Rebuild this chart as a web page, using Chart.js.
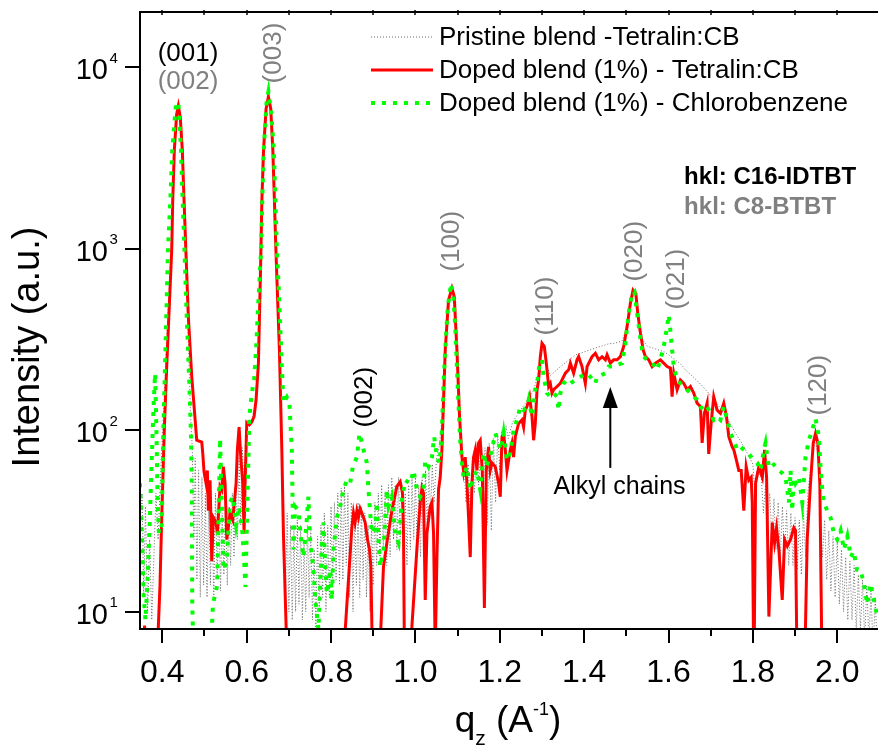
<!DOCTYPE html>
<html><head><meta charset="utf-8">
<script src="https://cdn.jsdelivr.net/npm/chart.js@4.4.1/dist/chart.umd.min.js"></script>
<style>html,body{margin:0;padding:0;background:#fff;overflow:hidden}canvas{display:block}</style>
</head><body>
<canvas id="c" width="878" height="747"></canvas>
<script>
// ---- series names ----
const seriesNames = ['Pristine blend -Tetralin:CB', 'Doped blend (1%) - Tetralin:CB', 'Doped blend (1%) - Chlorobenzene'];

// ---- series values: [q_z (1/A), intensity (a.u.)] ----
const pristine = [[0.347,30],[0.352,45],[0.356,12],[0.36,38],[0.365,10],[0.37,25],[0.375,9],[0.38,20],[0.385,45],[0.39,25],[0.395,50],[0.4,90],[0.405,160],[0.41,300],[0.42,900],[0.428,3000],[0.434,5200],[0.438,5800],[0.443,5000],[0.448,3000],[0.452,1600],[0.456,800],[0.462,300],[0.467,120],[0.471,80],[0.475,25],[0.478,70],[0.482,15],[0.486,60],[0.49,12],[0.494,55],[0.498,14],[0.502,45],[0.506,12],[0.51,40],[0.514,14],[0.518,35],[0.522,12],[0.526,45],[0.53,15],[0.534,40],[0.538,13],[0.542,35],[0.546,16],[0.55,40],[0.554,14],[0.558,38],[0.562,18],[0.566,45],[0.57,20],[0.574,55],[0.578,25],[0.582,70],[0.586,30],[0.59,80],[0.594,40],[0.598,90],[0.602,110],[0.61,110],[0.618,130],[0.625,200],[0.632,700],[0.64,3200],[0.646,5800],[0.6515,6600],[0.657,5600],[0.663,3000],[0.668,1200],[0.674,400],[0.68,150],[0.684,80],[0.688,30],[0.692,12],[0.696,35],[0.7,10],[0.704,30],[0.708,9],[0.712,28],[0.716,10],[0.72,32],[0.724,11],[0.728,30],[0.732,9],[0.736,25],[0.74,10],[0.744,30],[0.748,12],[0.752,28],[0.756,9],[0.76,22],[0.764,8],[0.768,26],[0.772,10],[0.776,30],[0.78,12],[0.784,35],[0.788,10],[0.792,30],[0.796,12],[0.8,38],[0.804,14],[0.808,40],[0.812,15],[0.816,45],[0.82,14],[0.824,48],[0.828,15],[0.832,50],[0.836,18],[0.84,45],[0.844,12],[0.848,40],[0.852,10],[0.856,35],[0.86,14],[0.864,40],[0.868,12],[0.872,38],[0.876,15],[0.88,35],[0.884,12],[0.888,30],[0.892,10],[0.896,32],[0.9,14],[0.904,40],[0.908,18],[0.912,45],[0.916,20],[0.92,50],[0.924,22],[0.928,45],[0.932,18],[0.936,50],[0.94,20],[0.944,55],[0.948,25],[0.952,50],[0.956,22],[0.96,55],[0.964,25],[0.968,50],[0.972,20],[0.976,45],[0.98,18],[0.984,50],[0.988,22],[0.992,55],[0.996,25],[1.0,55],[1.004,22],[1.008,50],[1.012,20],[1.016,55],[1.02,25],[1.024,60],[1.028,30],[1.032,60],[1.036,35],[1.04,65],[1.044,40],[1.05,70],[1.056,80],[1.062,110],[1.07,250],[1.078,480],[1.0866,560],[1.092,500],[1.098,260],[1.104,120],[1.11,75],[1.116,60],[1.12,40],[1.125,65],[1.13,35],[1.135,70],[1.14,45],[1.145,80],[1.15,50],[1.155,85],[1.16,40],[1.165,80],[1.17,30],[1.175,85],[1.18,28],[1.185,90],[1.19,40],[1.195,95],[1.2,60],[1.205,100],[1.21,80],[1.215,105],[1.22,90],[1.23,110],[1.24,120],[1.25,130],[1.26,140],[1.27,155],[1.28,165],[1.29,200],[1.3,280],[1.305,270],[1.31,230],[1.32,200],[1.33,210],[1.34,220],[1.35,230],[1.36,240],[1.37,250],[1.38,260],[1.39,265],[1.4,270],[1.41,275],[1.42,280],[1.43,285],[1.44,290],[1.45,295],[1.46,300],[1.47,300],[1.48,305],[1.49,310],[1.5,360],[1.51,480],[1.516,570],[1.522,540],[1.53,380],[1.54,310],[1.55,290],[1.56,285],[1.57,280],[1.58,275],[1.59,270],[1.6,260],[1.61,250],[1.62,240],[1.63,230],[1.64,215],[1.65,205],[1.66,195],[1.67,185],[1.68,175],[1.69,165],[1.7,155],[1.71,145],[1.72,135],[1.73,125],[1.74,115],[1.75,105],[1.76,95],[1.77,88],[1.78,80],[1.79,72],[1.8,65],[1.805,45],[1.81,60],[1.82,55],[1.825,35],[1.83,50],[1.835,30],[1.84,45],[1.845,25],[1.85,42],[1.855,22],[1.86,40],[1.865,20],[1.87,38],[1.875,20],[1.88,36],[1.885,18],[1.89,35],[1.895,18],[1.9,33],[1.905,17],[1.91,32],[1.915,16],[1.92,35],[1.925,20],[1.93,45],[1.94,70],[1.948,90],[1.955,70],[1.96,40],[1.965,20],[1.97,32],[1.975,15],[1.98,28],[1.985,13],[1.99,26],[1.995,12],[2.0,24],[2.005,11],[2.01,22],[2.015,10],[2.02,20],[2.025,9],[2.03,19],[2.035,9],[2.04,18],[2.045,8],[2.05,16],[2.055,8],[2.06,15],[2.065,7],[2.07,14],[2.075,7],[2.08,13],[2.085,6],[2.09,12],[2.095,6]];

const dopedTetralin = [[0.347,4],[0.352,4],[0.358,8.4],[0.362,4],[0.388,4],[0.3905,8.2],[0.3945,14],[0.3986,33],[0.4047,100],[0.4104,224],[0.4165,480],[0.4223,984],[0.4247,1850],[0.4285,3500],[0.434,5500],[0.438,6110],[0.4425,5300],[0.4474,3500],[0.4515,1850],[0.4555,1025],[0.4617,422],[0.4698,197],[0.4816,88],[0.4935,86],[0.4958,75],[0.4989,59],[0.5037,51],[0.5068,60],[0.5091,36],[0.5132,53],[0.5172,19],[0.521,33],[0.5274,31],[0.5305,27],[0.5369,49],[0.5409,47],[0.5447,63],[0.5488,51],[0.5528,25],[0.5606,35],[0.567,32],[0.5749,51],[0.5779,78],[0.582,104],[0.586,71],[0.5907,51],[0.5938,27],[0.5962,51],[0.6002,110],[0.6064,107],[0.6121,111],[0.6176,119],[0.6223,147],[0.6278,233],[0.633,800],[0.636,1850],[0.64,3500],[0.646,5900],[0.6515,6880],[0.657,5900],[0.662,3500],[0.6657,1850],[0.669,1025],[0.6776,277],[0.6833,78],[0.6871,27],[0.6935,8.3],[0.698,4],[0.826,4],[0.834,8.2],[0.8493,29],[0.8531,35],[0.857,31],[0.8612,36],[0.865,33],[0.869,37],[0.8731,35],[0.8809,31],[0.8864,25],[0.8911,22],[0.8944,17.7],[0.8968,8.3],[0.899,4],[0.915,4],[0.9181,8.2],[0.9243,17.7],[0.9324,24],[0.9442,36],[0.9561,49],[0.9639,52],[0.9694,45],[0.9718,27],[0.9734,8.3],[0.976,4],[0.988,4],[0.9917,8.3],[1.005,25],[1.0114,40],[1.0154,48],[1.0192,45],[1.0233,11.6],[1.0273,27],[1.0351,38],[1.0391,40],[1.043,27],[1.047,6],[1.051,20],[1.0548,47],[1.0588,55],[1.0628,78],[1.0707,277],[1.0785,521],[1.0866,605],[1.0921,544],[1.0984,277],[1.1046,119],[1.1103,71],[1.1141,60],[1.1181,71],[1.1222,51],[1.126,33],[1.13,20],[1.134,51],[1.1378,71],[1.1419,78],[1.1459,60],[1.1497,85],[1.1537,88],[1.1585,60],[1.1635,10.5],[1.168,60],[1.1734,81],[1.1774,60],[1.1815,66],[1.1893,63],[1.1972,51],[1.2012,43],[1.2052,92],[1.209,96],[1.2131,78],[1.2171,60],[1.2249,78],[1.2289,85],[1.2327,71],[1.2368,92],[1.2446,109],[1.2527,114],[1.2565,104],[1.2605,129],[1.2645,135],[1.2707,153],[1.2764,119],[1.2802,88],[1.2842,109],[1.2883,167],[1.2921,189],[1.2961,254],[1.3001,301],[1.3056,289],[1.3103,234],[1.3158,174],[1.3198,181],[1.3238,160],[1.3276,167],[1.3357,174],[1.3435,181],[1.3554,206],[1.3632,215],[1.3673,234],[1.3751,206],[1.3831,244],[1.3869,254],[1.395,224],[1.4028,181],[1.4069,224],[1.4187,254],[1.4266,265],[1.4344,244],[1.4425,254],[1.4503,244],[1.4543,260],[1.4622,234],[1.47,244],[1.4781,244],[1.4859,254],[1.4937,289],[1.5018,372],[1.5096,500],[1.516,592],[1.5225,568],[1.5271,440],[1.5335,342],[1.5399,277],[1.5453,254],[1.5531,244],[1.5611,224],[1.569,234],[1.5808,244],[1.5886,234],[1.5967,224],[1.6045,220],[1.6085,153],[1.6124,206],[1.6204,167],[1.6282,189],[1.6361,181],[1.6441,167],[1.6519,174],[1.6598,160],[1.6678,141],[1.6756,135],[1.6797,85],[1.6851,124],[1.6915,141],[1.6953,74],[1.701,109],[1.7072,153],[1.7153,129],[1.7231,124],[1.731,141],[1.7374,119],[1.7429,92],[1.7509,81],[1.7548,78],[1.7612,68],[1.7666,60],[1.7723,60],[1.7785,36],[1.7841,63],[1.7903,53],[1.796,55],[1.7985,40],[1.8024,4],[1.8064,51],[1.8142,63],[1.8223,55],[1.8277,78],[1.8325,55],[1.8379,9.4],[1.8459,31],[1.8514,24],[1.8561,29],[1.8616,22],[1.8696,11.6],[1.8751,25],[1.8815,23],[1.8893,25],[1.8971,29],[1.9011,28],[1.9051,4],[1.922,4],[1.9288,25],[1.9366,51],[1.9431,85],[1.9485,96],[1.954,85],[1.9587,51],[1.9644,4],[2.097,4]];

const dopedCB = [[0.347,51],[0.352,25],[0.356,12],[0.36,9],[0.365,15],[0.37,30],[0.375,70],[0.38,150],[0.383,205],[0.386,100],[0.389,40],[0.392,27],[0.3986,30],[0.4024,100],[0.4064,224],[0.4135,1000],[0.419,1850],[0.4237,3500],[0.4317,6000],[0.438,6430],[0.4443,3500],[0.4482,1850],[0.4522,1025],[0.4579,422],[0.464,181],[0.4681,92],[0.4698,51],[0.471,11],[0.474,6],[0.515,6],[0.52,11],[0.53,14],[0.537,90],[0.545,17],[0.553,19],[0.56,40],[0.567,43],[0.575,30],[0.582,38],[0.59,27],[0.594,19],[0.597,13.7],[0.6064,119],[0.6121,160],[0.6176,189],[0.6223,280],[0.6278,520],[0.6342,984],[0.637,1850],[0.6405,3500],[0.6473,6500],[0.6515,7330],[0.6585,5500],[0.6643,3500],[0.6681,1850],[0.6713,1025],[0.6776,500],[0.6833,224],[0.6871,141],[0.6951,152],[0.7013,141],[0.707,78],[0.7094,33],[0.711,22],[0.7148,38],[0.7227,36],[0.7283,26],[0.7345,20],[0.741,29],[0.7464,43],[0.7504,25],[0.7583,17],[0.7623,12],[0.7701,8],[0.7782,24],[0.782,31],[0.786,18.5],[0.79,12.6],[0.7979,17],[0.8019,11.6],[0.8057,22],[0.8138,33],[0.8216,38],[0.8294,47],[0.8375,53],[0.8453,51],[0.8517,63],[0.8612,71],[0.8674,96],[0.8731,85],[0.8769,78],[0.8849,66],[0.8887,47],[0.8928,35],[0.8968,27],[0.9046,29],[0.9087,40],[0.9124,25],[0.9164,17.7],[0.9243,22],[0.9324,47],[0.9362,38],[0.9442,43],[0.952,27],[0.9599,24],[0.9679,41],[0.9758,53],[0.9876,51],[0.9955,60],[1.0035,47],[1.0114,43],[1.0192,47],[1.0233,68],[1.0311,63],[1.0391,71],[1.0445,92],[1.051,71],[1.0572,66],[1.0628,100],[1.0667,181],[1.0707,277],[1.0767,479],[1.0847,644],[1.0907,521],[1.0952,342],[1.1,181],[1.1056,92],[1.1103,66],[1.1141,55],[1.1222,63],[1.13,47],[1.1378,55],[1.1459,60],[1.1537,47],[1.1615,75],[1.1688,63],[1.1815,78],[1.1893,96],[1.1972,85],[1.2029,78],[1.209,96],[1.2171,68],[1.2249,75],[1.2327,100],[1.2408,114],[1.2487,135],[1.2565,129],[1.2645,135],[1.2684,147],[1.2764,119],[1.2842,167],[1.2883,181],[1.2944,234],[1.3001,244],[1.3039,197],[1.312,160],[1.3198,153],[1.3276,160],[1.3357,153],[1.3395,129],[1.3435,160],[1.3514,181],[1.3593,189],[1.3673,181],[1.3791,189],[1.391,197],[1.4069,206],[1.4146,197],[1.4266,181],[1.4305,197],[1.4384,200],[1.4503,206],[1.4581,224],[1.466,224],[1.4781,229],[1.4899,234],[1.4977,301],[1.5056,440],[1.5137,568],[1.5191,580],[1.5255,440],[1.5316,342],[1.5374,277],[1.5412,254],[1.5493,244],[1.5571,234],[1.565,229],[1.573,215],[1.5808,244],[1.5886,289],[1.5967,372],[1.6005,431],[1.6045,353],[1.6085,277],[1.6124,224],[1.6204,189],[1.6282,181],[1.6361,174],[1.6441,167],[1.6519,160],[1.6598,153],[1.6678,147],[1.6756,135],[1.6835,129],[1.6915,135],[1.6993,124],[1.7072,114],[1.7153,119],[1.7231,114],[1.731,135],[1.739,114],[1.7469,96],[1.7548,88],[1.7627,78],[1.7707,81],[1.7785,78],[1.7864,75],[1.7944,72],[1.8024,68],[1.8103,66],[1.8181,60],[1.8261,78],[1.83,85],[1.834,72],[1.8379,63],[1.8459,66],[1.8537,63],[1.8616,60],[1.8696,58],[1.8775,55],[1.8854,40],[1.8893,60],[1.8933,36],[1.8972,55],[1.9011,51],[1.909,55],[1.913,47],[1.917,40],[1.9248,71],[1.9327,88],[1.9406,100],[1.9485,116],[1.9564,92],[1.9603,63],[1.9644,47],[1.9683,40],[1.9763,36],[1.9841,33],[1.992,27],[2.0,25],[2.008,28],[2.016,22],[2.024,26],[2.032,20],[2.039,21.5],[2.047,17],[2.055,17],[2.063,14.3],[2.071,11],[2.079,14.3],[2.087,11.6],[2.095,9.4]];

// ---- axes ----
const xRange = [0.3471, 2.0966];
const yRange = [8.03, 20130];
const xMajorTicks = [0.4, 0.6, 0.8, 1.0, 1.2, 1.4, 1.6, 1.8, 2.0];
const xTickLabels = ['0.4', '0.6', '0.8', '1.0', '1.2', '1.4', '1.6', '1.8', '2.0'];
const xMinorTicks = [0.5, 0.7, 0.9, 1.1, 1.3, 1.5, 1.7, 1.9];
const yTicks = [10, 100, 1000, 10000];
const yTickBase = '10';
const yTickExponents = ['1', '2', '3', '4'];

// ---- annotations (anchored in data coordinates) ----
const hklLabels = ['(001)', '(002)', '(003)', '(002)', '(100)', '(110)', '(020)', '(021)', '(120)'];
const hklQ = [0.461, 0.461, 0.665, 0.881, 1.0873, 1.310, 1.519, 1.619, 1.956];
const hklI = [11830, 8280, 11960, 152, 1099, 483, 968, 680, 177];
const hklMaterial = [0, 1, 1, 0, 1, 1, 1, 1, 1];
const hklRotated = [false, false, true, true, true, true, true, true, true];
const materialLabels = ['hkl: C16-IDTBT', 'hkl: C8-BTBT'];
const materialQ = 1.637;
const materialI = [2477, 1694];
const arrowText = 'Alkyl chains';
const arrowTextAt = [1.484, 48.7];
const arrowQ = 1.462;
const arrowFromI = 62;
const arrowToI = 173;

const FONT = "'Liberation Sans', Arial, Helvetica, sans-serif";
const materialColors = ['#000000', '#808080'];

function seg(ctx, x1, y1, x2, y2) { ctx.beginPath(); ctx.moveTo(x1, y1); ctx.lineTo(x2, y2); ctx.stroke(); }

const decor = {
  id: 'decor',
  afterDraw(chart) {
    const { ctx, chartArea: a, scales } = chart;
    const xs = scales.x, ys = scales.y;
    ctx.save();
    ctx.lineCap = 'butt';
    ctx.setLineDash([]);
    // frame
    ctx.strokeStyle = '#000';
    ctx.lineWidth = 2;
    ctx.beginPath();
    ctx.moveTo(a.left, a.bottom + 1);
    ctx.lineTo(a.left, a.top);
    ctx.lineTo(a.right, a.top);
    ctx.moveTo(a.left - 1, a.bottom);
    ctx.lineTo(a.right, a.bottom);
    ctx.stroke();
    // ticks
    xMajorTicks.forEach(v => { const p = Math.round(xs.getPixelForValue(v)); seg(ctx, p, a.bottom, p, a.bottom + 14); });
    xMinorTicks.forEach(v => { const p = Math.round(xs.getPixelForValue(v)); seg(ctx, p, a.bottom, p, a.bottom + 7); });
    ctx.lineWidth = 1.5;
    xMajorTicks.concat(xMinorTicks).forEach(v => { const p = Math.round(xs.getPixelForValue(v)); seg(ctx, p, a.top - 2, p, a.top + 3); });
    ctx.lineWidth = 2;
    yTicks.forEach(v => { const p = Math.round(ys.getPixelForValue(v)); seg(ctx, a.left - 15, p, a.left, p); });
    // tick labels
    ctx.fillStyle = '#000';
    ctx.textBaseline = 'alphabetic';
    ctx.font = '32px ' + FONT;
    ctx.textAlign = 'center';
    xMajorTicks.forEach((v, k) => ctx.fillText(xTickLabels[k], xs.getPixelForValue(v), a.bottom + 53));
    yTicks.forEach((v, k) => {
      const p = ys.getPixelForValue(v);
      ctx.font = '29px ' + FONT; ctx.textAlign = 'right';
      ctx.fillText(yTickBase, a.left - 32, p + 12);
      ctx.font = '15px ' + FONT; ctx.textAlign = 'left';
      ctx.fillText(yTickExponents[k], a.left - 30.5, p - 4.5);
    });
    // y title
    ctx.save();
    ctx.translate(29, 347);
    ctx.rotate(-Math.PI / 2);
    ctx.font = '38px ' + FONT; ctx.textAlign = 'center'; ctx.textBaseline = 'middle';
    ctx.fillText('Intensity (a.u.)', 0, 0);
    ctx.restore();
    // x title: q_z (A^-1)
    {
      const big = '37px ' + FONT, sub = '21px ' + FONT, sup = '18px ' + FONT;
      const parts = [['q', big, 0], ['z', sub, 13], [' (A', big, 0], ['-1', sup, -17], [')', big, 0]];
      let w = 0;
      parts.forEach(p => { ctx.font = p[1]; w += ctx.measureText(p[0]).width; });
      let x0 = (a.left + a.right) / 2 - w / 2 - 1;
      const base = a.bottom + 103;
      ctx.textAlign = 'left'; ctx.textBaseline = 'alphabetic';
      parts.forEach(p => { ctx.font = p[1]; ctx.fillText(p[0], x0, base + p[2]); x0 += ctx.measureText(p[0]).width; });
    }
    // legend
    chart.data.datasets.forEach((ds, k) => {
      const yy = 37 + k * 33;
      ctx.strokeStyle = ds.borderColor; ctx.lineWidth = ds.borderWidth;
      ctx.setLineDash(ds.borderDash || []);
      seg(ctx, 371, yy, 433, yy);
      ctx.setLineDash([]);
      ctx.fillStyle = '#000'; ctx.font = '26px ' + FONT; ctx.textAlign = 'left'; ctx.textBaseline = 'middle';
      ctx.fillText(ds.label, 439, yy + 1);
    });
    // hkl labels
    hklLabels.forEach((t, k) => {
      const px = xs.getPixelForValue(hklQ[k]), py = ys.getPixelForValue(hklI[k]);
      ctx.save();
      ctx.translate(px, py);
      if (hklRotated[k]) ctx.rotate(-Math.PI / 2);
      ctx.fillStyle = materialColors[hklMaterial[k]];
      ctx.font = '26px ' + FONT; ctx.textAlign = 'center'; ctx.textBaseline = 'middle';
      ctx.fillText(t, 0, 0);
      ctx.restore();
    });
    // material labels
    materialLabels.forEach((t, k) => {
      ctx.fillStyle = materialColors[k];
      ctx.font = 'bold 24px ' + FONT; ctx.textAlign = 'left'; ctx.textBaseline = 'middle';
      ctx.fillText(t, xs.getPixelForValue(materialQ), ys.getPixelForValue(materialI[k]));
    });
    // arrow + text
    {
      const ax = xs.getPixelForValue(arrowQ);
      const y1 = ys.getPixelForValue(arrowFromI), y2 = ys.getPixelForValue(arrowToI);
      ctx.strokeStyle = '#000'; ctx.fillStyle = '#000'; ctx.lineWidth = 2;
      seg(ctx, ax, y1, ax, y2 + 18);
      ctx.beginPath(); ctx.moveTo(ax, y2); ctx.lineTo(ax - 7.5, y2 + 21); ctx.lineTo(ax + 7.5, y2 + 21); ctx.closePath(); ctx.fill();
      ctx.font = '25px ' + FONT; ctx.textAlign = 'center'; ctx.textBaseline = 'middle';
      ctx.fillText(arrowText, xs.getPixelForValue(arrowTextAt[0]), ys.getPixelForValue(arrowTextAt[1]));
    }
    ctx.restore();
  }
};

const toPts = arr => arr.map(p => ({ x: p[0], y: p[1] }));

new Chart(document.getElementById('c').getContext('2d'), {
  type: 'line',
  data: {
    datasets: [
      { label: seriesNames[0], data: toPts(pristine), borderColor: '#6a6a6a', borderWidth: 1, borderDash: [1, 2], pointRadius: 0, tension: 0, order: 3 },
      { label: seriesNames[1], data: toPts(dopedTetralin), borderColor: '#ff0000', borderWidth: 3, pointRadius: 0, tension: 0, order: 2 },
      { label: seriesNames[2], data: toPts(dopedCB), borderColor: '#00ff00', borderWidth: 4, borderDash: [4, 7], pointRadius: 0, tension: 0, order: 1 }
    ]
  },
  options: {
    responsive: false, animation: false, devicePixelRatio: 1,
    layout: { padding: { top: 12, left: 0, right: 0, bottom: 0 } },
    plugins: { legend: { display: false }, tooltip: { enabled: false } },
    scales: {
      x: { type: 'linear', bounds: 'data', min: xRange[0], max: xRange[1], grid: { display: false }, border: { display: false }, ticks: { display: false }, afterFit(s) { s.height = 118; } },
      y: { type: 'logarithmic', min: yRange[0], max: yRange[1], grid: { display: false }, border: { display: false }, ticks: { display: false }, afterFit(s) { s.width = 140; } }
    }
  },
  plugins: [decor]
});
</script>
</body></html>
